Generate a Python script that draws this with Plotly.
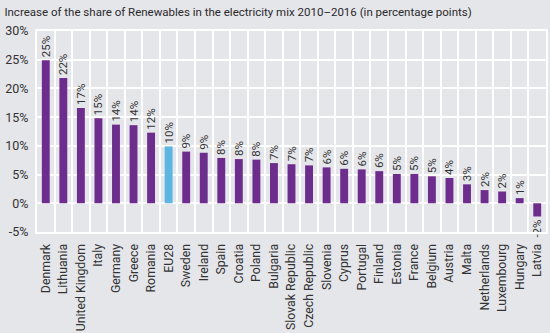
import plotly.graph_objects as go

countries = ["Denmark", "Lithuania", "United Kingdom", "Italy", "Germany", "Greece", "Romania",
             "EU28", "Sweden", "Ireland", "Spain", "Croatia", "Poland", "Bulgaria",
             "Slovak Republic", "Czech Republic", "Slovenia", "Cyprus", "Portugal", "Finland",
             "Estonia", "France", "Belgium", "Austria", "Malta", "Netherlands", "Luxembourg",
             "Hungary", "Latvia"]
values = [24.9, 21.8, 16.6, 14.8, 13.7, 13.6, 12.3,
          9.9, 9.0, 8.8, 7.9, 7.7, 7.6, 7.0,
          6.8, 6.6, 6.25, 6.0, 5.9, 5.6,
          5.1, 5.1, 4.7, 4.4, 3.3, 2.3, 2.05,
          0.9, -2.3]
labels = ["25%", "22%", "17%", "15%", "14%", "14%", "12%",
          "10%", "9%", "9%", "8%", "8%", "8%", "7%",
          "7%", "7%", "6%", "6%", "6%", "6%",
          "5%", "5%", "5%", "4%", "3%", "2%", "2%",
          "1%", "-2%"]
highlight = "EU28"
yticks = [-5, 0, 5, 10, 15, 20, 25, 30]
ytick_text = ["-5%", "0%", "5%", "10%", "15%", "20%", "25%", "30%"]

colors = ["#5cb6e4" if c == highlight else "#6e2d8e" for c in countries]

fig = go.Figure(go.Bar(
    x=countries, y=values, marker=dict(color=colors, line=dict(width=0)),
    text=labels, textposition="outside", textangle=-90,
    textfont=dict(family="Roboto", size=11.5, color="#333333"),
    cliponaxis=False,
))

fig.update_layout(
    width=550, height=333,
    paper_bgcolor="#e5e6ea", plot_bgcolor="#e5e6ea",
    margin=dict(l=37, r=2, t=31, b=100),
    bargap=0.55,
    showlegend=False,
    uniformtext=dict(minsize=11.5, mode="show"),
    title=dict(text="Increase of the share of Renewables in the electricity mix 2010–2016 (in percentage points)",
               x=0.008, xanchor="left", y=0.965, yanchor="middle",
               font=dict(family="Roboto", size=11.5, color="#2a2a2a")),
    font=dict(family="Roboto", color="#333333"),
)
fig.update_xaxes(
    type="category", tickson="boundaries", showgrid=True, gridcolor="white", gridwidth=1.5,
    ticks="", tickangle=-90, tickfont=dict(size=12.3, color="#333333"), ticklabelstandoff=5,
    showline=True, linecolor="white", linewidth=2, mirror=True,
)
fig.update_yaxes(
    range=[-5, 30], tickvals=yticks, ticktext=ytick_text,
    showgrid=True, gridcolor="white", gridwidth=2, zeroline=False,
    tickfont=dict(size=12.5, color="#333333"), ticks="", ticklabelstandoff=4,
    showline=True, linecolor="white", linewidth=2, mirror=True,
)

fig.write_html("out.html")
